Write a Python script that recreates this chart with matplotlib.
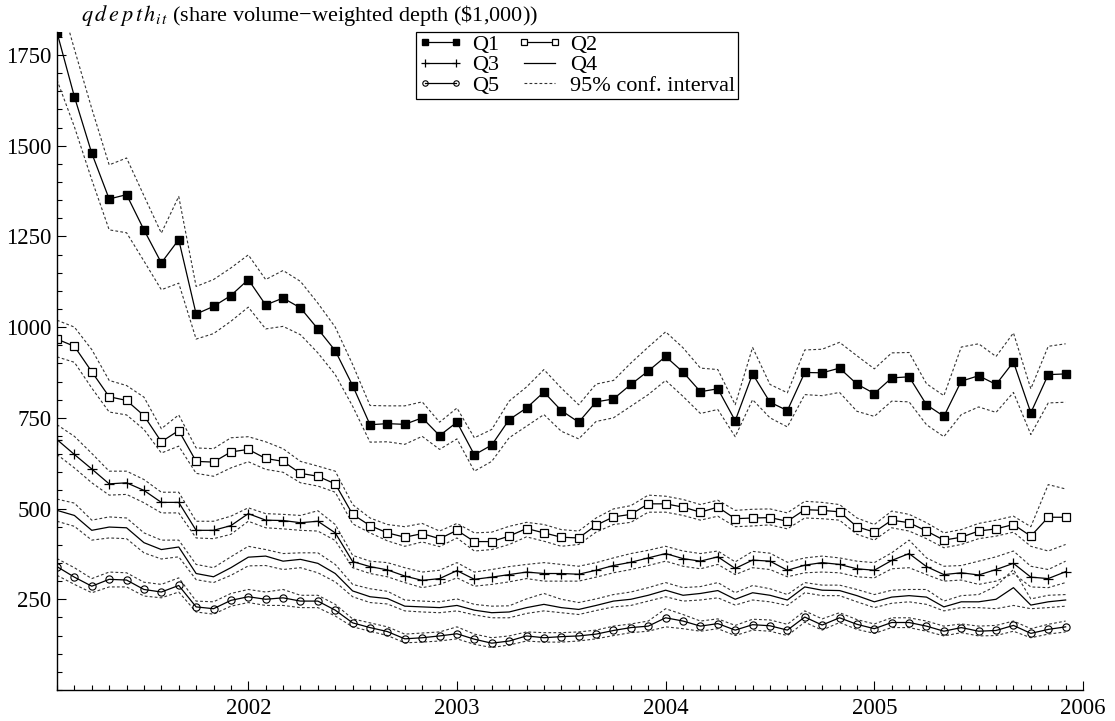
import numpy as np
import matplotlib
matplotlib.use("Agg")
import matplotlib.pyplot as plt
from matplotlib.ticker import MultipleLocator, FixedLocator

plt.rcParams['font.family'] = ['Liberation Serif', 'DejaVu Serif']
plt.rcParams['mathtext.fontset'] = 'stix'

# monthly observations, Feb 2001 .. Dec 2005
months = np.arange(59)
xdate = 2001 + (months + 1) / 12.0

q1 = [1812, 1635, 1479, 1353, 1365, 1268, 1177, 1241, 1036, 1057,
      1087, 1131, 1061, 1080, 1053, 995, 935, 839, 731, 734,
      732, 750, 701, 738, 648, 675, 745, 777, 821, 770,
      738, 794, 802, 842, 879, 919, 876, 822, 830, 742,
      871, 793, 770, 875, 874, 887, 843, 817, 860, 863,
      786, 754, 851, 866, 842, 904, 764, 869, 871]
q1_hi = [1935, 1766, 1602, 1447, 1466, 1362, 1259, 1360, 1112, 1131,
         1163, 1199, 1131, 1156, 1126, 1066, 1000, 897, 784, 783,
         783, 794, 738, 777, 695, 718, 796, 835, 883, 832,
         786, 843, 853, 901, 945, 987, 943, 887, 883, 786,
         944, 842, 819, 937, 939, 958, 921, 885, 929, 930,
         844, 811, 945, 954, 919, 984, 830, 947, 954]
q1_lo = [1681, 1552, 1406, 1268, 1260, 1182, 1103, 1121, 967, 982,
         1016, 1055, 995, 1002, 979, 929, 869, 782, 683, 684,
         677, 699, 663, 692, 603, 630, 695, 727, 759, 713,
         692, 740, 750, 782, 814, 853, 809, 762, 773, 698,
         800, 750, 725, 814, 811, 820, 768, 754, 796, 794,
         731, 698, 759, 780, 765, 820, 704, 791, 793]

q2 = [967, 947, 877, 808, 798, 756, 684, 715, 630, 628,
      656, 663, 638, 630, 597, 589, 568, 484, 453, 433,
      421, 431, 417, 440, 409, 409, 424, 445, 433, 421,
      419, 454, 477, 484, 513, 513, 504, 490, 504, 472,
      474, 475, 465, 497, 495, 491, 450, 435, 468, 461,
      438, 413, 421, 438, 444, 456, 424, 476, 476]
q2_hi = [1019, 1000, 938, 853, 839, 807, 720, 758, 667, 665,
         695, 698, 684, 665, 630, 617, 603, 511, 474, 456,
         450, 459, 438, 459, 433, 435, 451, 462, 456, 442,
         438, 474, 499, 508, 537, 534, 525, 511, 523, 495,
         498, 499, 488, 520, 517, 511, 474, 456, 493, 484,
         461, 433, 442, 459, 468, 479, 450, 566, 554]
q2_lo = [918, 903, 832, 766, 758, 718, 653, 672, 597, 589,
         612, 629, 608, 600, 571, 562, 545, 458, 433, 411,
         396, 408, 395, 419, 383, 387, 401, 422, 410, 396,
         401, 435, 456, 462, 490, 490, 481, 468, 479, 450,
         452, 455, 444, 474, 472, 468, 429, 413, 447, 438,
         417, 392, 401, 417, 424, 435, 396, 383, 401]

q3 = [690, 649, 609, 568, 571, 550, 517, 517, 440, 440,
      453, 486, 468, 467, 461, 465, 433, 354, 340, 331,
      314, 302, 307, 329, 305, 311, 318, 325, 321, 321,
      319, 330, 343, 352, 364, 376, 362, 355, 367, 335,
      358, 355, 330, 344, 351, 346, 334, 330, 357, 376,
      340, 318, 323, 317, 332, 349, 311, 307, 326]
q3_hi = [731, 699, 652, 603, 603, 580, 545, 545, 465, 465,
         479, 502, 486, 484, 481, 494, 456, 371, 355, 351,
         337, 325, 330, 351, 325, 332, 340, 346, 351, 346,
         341, 351, 364, 376, 385, 396, 383, 376, 383, 353,
         382, 377, 352, 364, 369, 364, 355, 351, 378, 413,
         364, 341, 343, 355, 367, 383, 341, 332, 355]
q3_lo = [649, 612, 571, 537, 539, 516, 488, 488, 419, 417,
         429, 465, 447, 444, 440, 438, 412, 337, 321, 312,
         296, 282, 291, 309, 286, 291, 298, 307, 300, 300,
         300, 311, 323, 332, 343, 355, 341, 334, 346, 318,
         337, 332, 312, 323, 325, 323, 312, 309, 334, 337,
         318, 300, 303, 291, 300, 321, 284, 282, 296]

q4 = [495, 481, 440, 449, 447, 406, 387, 394, 321, 312,
      337, 366, 369, 355, 360, 349, 321, 273, 257, 252,
      231, 229, 227, 233, 220, 213, 215, 227, 236, 227,
      222, 233, 245, 250, 261, 275, 261, 266, 274, 250,
      268, 261, 248, 284, 275, 274, 260, 243, 256, 260,
      256, 229, 243, 243, 250, 282, 234, 243, 248]
q4_hi = [526, 515, 468, 477, 474, 433, 413, 413, 346, 337,
         367, 396, 387, 376, 378, 378, 346, 291, 279, 272,
         248, 245, 243, 251, 236, 231, 232, 251, 266, 250,
         241, 251, 263, 270, 282, 296, 282, 285, 296, 268,
         288, 279, 263, 296, 289, 289, 277, 263, 275, 277,
         277, 245, 260, 263, 286, 332, 251, 261, 263]
q4_lo = [465, 451, 413, 419, 417, 378, 361, 367, 304, 296,
         316, 342, 343, 332, 337, 323, 298, 257, 241, 237,
         218, 215, 213, 218, 207, 199, 199, 211, 218, 213,
         208, 219, 229, 233, 245, 257, 245, 248, 254, 234,
         248, 243, 233, 268, 260, 260, 243, 227, 239, 243,
         236, 218, 227, 227, 224, 233, 224, 227, 231]

q5 = [340, 311, 286, 305, 303, 277, 270, 288, 229, 224,
      247, 257, 250, 254, 245, 245, 220, 185, 172, 161,
      141, 144, 149, 155, 140, 129, 135, 149, 144, 147,
      149, 154, 164, 172, 176, 199, 190, 176, 183, 165,
      180, 177, 165, 201, 179, 199, 181, 169, 186, 186,
      176, 162, 172, 162, 164, 178, 156, 167, 174]
q5_hi = [362, 337, 307, 325, 323, 297, 291, 309, 245, 243,
         266, 277, 270, 277, 261, 261, 236, 196, 185, 174,
         154, 157, 160, 174, 154, 144, 149, 160, 158, 158,
         160, 165, 176, 182, 190, 224, 208, 190, 196, 178,
         195, 193, 181, 218, 196, 213, 194, 182, 199, 199,
         190, 176, 182, 176, 178, 190, 169, 181, 190]
q5_lo = [316, 291, 268, 284, 284, 259, 254, 270, 215, 209,
         231, 241, 233, 233, 227, 227, 204, 174, 162, 150,
         130, 132, 135, 141, 126, 117, 124, 135, 132, 132,
         135, 141, 150, 158, 162, 174, 169, 162, 169, 150,
         165, 162, 150, 187, 165, 186, 167, 156, 172, 172,
         162, 149, 158, 149, 150, 162, 144, 154, 160]

year_ticks = [2002, 2003, 2004, 2005, 2006]
value_ticks = [250, 500, 750, 1000, 1250, 1500, 1750]

fig = plt.figure(figsize=(11.15, 7.21), dpi=100)
ax = fig.add_axes([57 / 1115, 1 - 690 / 721, (1083 - 57) / 1115, (690 - 31.7) / 721])

lw = 0.9
ci_style = dict(color='#333333', lw=0.8, ls=(0, (2.5, 2)))
ms = 5.2

series = [
    (q1, q1_hi, q1_lo, dict(marker='s', mfc='black', mec='black'), 'Q1'),
    (q2, q2_hi, q2_lo, dict(marker='s', mfc='white', mec='black', mew=0.9), 'Q2'),
    (q3, q3_hi, q3_lo, dict(marker='+', mec='black', mew=0.9, ms=7), 'Q3'),
    (q4, q4_hi, q4_lo, dict(marker=None), 'Q4'),
    (q5, q5_hi, q5_lo, dict(marker='o', mfc='none', mec='black', mew=0.8), 'Q5'),
]

handles = {}
for vals, hi, lo, mk, name in series:
    ax.plot(xdate, hi, **ci_style)
    ax.plot(xdate, lo, **ci_style)
    kw = dict(color='black', lw=lw, ms=ms)
    kw.update(mk)
    h, = ax.plot(xdate, vals, label=name, **kw)
    handles[name] = h
ci_h, = ax.plot([], [], label='95% conf. interval', **ci_style)

ax.set_xlim(2001 + 1 / 12, 2006)
ax.set_ylim(0, 1814)
ax.xaxis.set_major_locator(FixedLocator(year_ticks))
ax.xaxis.set_minor_locator(MultipleLocator(1 / 12))
ax.set_xticklabels([str(y) for y in year_ticks])
ax.yaxis.set_major_locator(FixedLocator(value_ticks))
ax.yaxis.set_minor_locator(MultipleLocator(50))

for s in ['top', 'right']:
    ax.spines[s].set_visible(False)
for s in ['left', 'bottom']:
    ax.spines[s].set_linewidth(1.0)

ax.tick_params(which='major', direction='in', length=6.5, width=0.8,
               labelsize=16.5, pad=4)
ax.tick_params(which='minor', direction='in', length=3.3, width=0.8)
ax.tick_params(axis='x', which='major', pad=6)

fig.text(81 / 1115, 1 - 21 / 721,
         r'$q\,d\,e\,p\,t\,h_{i\,t}$' + r' (share volume' + '\u2212' + r'weighted depth (\$1,000))',
         fontsize=16, ha='left', va='baseline')

order = ['Q1', 'Q3', 'Q5', 'Q2', 'Q4']
leg = fig.legend([handles[k] for k in order] + [ci_h],
                 order + ['95% conf. interval'],
                 ncol=2, loc='upper left',
                 bbox_to_anchor=(416 / 1115, 1 - 31.5 / 721),
                 bbox_transform=fig.transFigure,
                 fontsize=16, frameon=True, fancybox=False,
                 edgecolor='black', framealpha=1, numpoints=2,
                 markerscale=0.75, handlelength=2.0, handletextpad=0.4,
                 columnspacing=0.8, labelspacing=0.0, borderpad=0.12,
                 borderaxespad=0)
leg.get_frame().set_linewidth(0.9)

fig.savefig('out.png', dpi=100)
